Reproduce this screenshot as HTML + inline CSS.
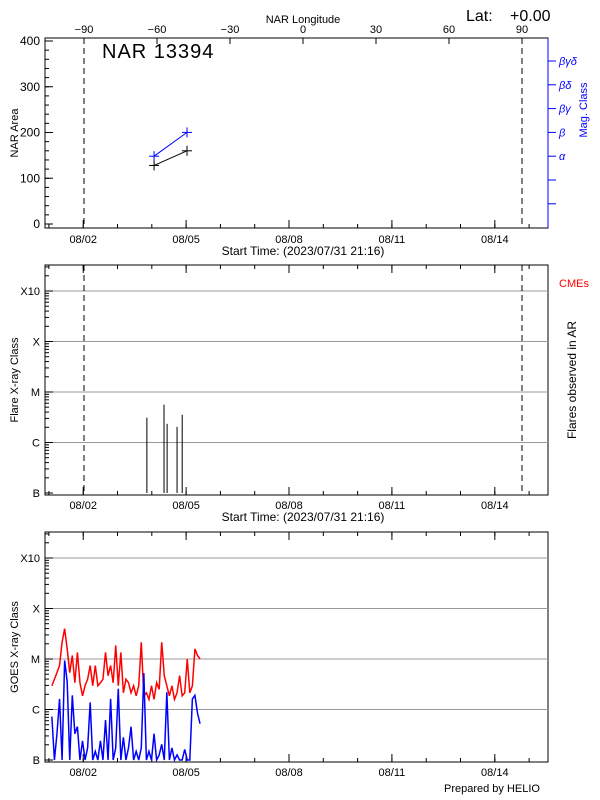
<!DOCTYPE html>
<html><head><meta charset="utf-8"><style>
body{margin:0;background:#fff}
svg{font-family:"Liberation Sans",sans-serif;display:block}
</style></head><body>
<svg id="c" width="600" height="800" viewBox="0 0 600 800"></svg>
<script>
// ---- data ----
const dayTickLabels = ["08/02","08/05","08/08","08/11","08/14"];
const dayTickDays = [1.114,4.114,7.114,10.114,13.114]; // days since start 07/31 21:16
const lonTicks = [-90,-60,-30,0,30,60,90];
const areaTicks = [0,100,200,300,400];
const narDays = [3.18,4.14];
const narArea = [128,160];
const magLevels = [1,2]; // alpha, beta
const magLabels = ["α","β","βγ","βδ","βγδ"];
const classLabels = ["B","C","M","X","X10"];
const flareDays = [2.97,3.47,3.56,3.85,4.0];
const flareLog = [-5.51,-5.25,-5.63,-5.69,-5.45];
const goesLong = [-5.53,-5.40,-5.27,-5.13,-4.67,-4.40,-4.80,-5.27,-4.93,-5.47,-4.87,-5.47,-5.73,-5.53,-5.40,-5.13,-5.53,-5.13,-5.53,-5.47,-5.40,-4.87,-5.33,-5.13,-5.47,-4.73,-5.53,-4.87,-5.67,-5.40,-5.47,-5.67,-5.53,-5.73,-5.53,-4.67,-5.73,-5.67,-5.80,-5.53,-5.80,-5.47,-5.60,-4.67,-5.33,-5.53,-5.73,-5.53,-5.80,-5.67,-5.33,-5.73,-5.67,-5.00,-5.67,-5.53,-4.80,-4.93,-5.00];
const goesShort = [-6.14,-7,-6.48,-5.79,-7,-5.03,-5.45,-7,-5.72,-6.48,-6.34,-7,-6.62,-7,-6.76,-5.86,-7,-6.83,-7,-6.62,-7,-6.21,-7,-5.79,-7,-6.76,-5.59,-7,-6.55,-7,-6.76,-6.34,-7,-6.83,-7,-6.76,-5.28,-7,-6.83,-7,-6.48,-7,-6.9,-6.69,-7,-5.66,-7,-6.76,-7,-6.9,-7,-7,-6.79,-7,-7,-5.79,-5.72,-6.07,-6.28];
const goesStartDay = 0.2, goesEndDay = 4.52;

const svg=document.getElementById('c');
const NS="http://www.w3.org/2000/svg";
function mk(tag,attrs,parent){const e=document.createElementNS(NS,tag);for(const k in attrs)e.setAttribute(k,attrs[k]);(parent||svg).appendChild(e);return e;}
function txt(s,x,y,o,parent){const e=mk('text',Object.assign({x:x,y:y,'font-size':11},o||{}),parent);e.textContent=s;return e;}

const X0=45,X1=548,PXD=34.3;
const xd=d=>X0+d*PXD;
const xl=l=>303+l*(438/180);

// ===== top panel =====
const T0=38,T1=228;
const ya=v=>224-v*(183/400);
const g1=mk('g',{});


mk('rect',{x:X0,y:T0,width:X1-X0,height:T1-T0,fill:'none',stroke:'#000'},g1);
mk('line',{x1:X1,y1:T0,x2:X1,y2:T1,stroke:'#00f'},g1);
areaTicks.forEach(v=>{mk('line',{x1:X0,y1:ya(v),x2:X0+8,y2:ya(v),stroke:'#000'},g1);
 const t=txt(String(v),40,ya(v)+4,{'text-anchor':'end','font-size':12},g1);
 });
for(let v=0;v<=400;v+=20)mk('line',{x1:X0,y1:ya(v),x2:X0+4,y2:ya(v),stroke:'#000'},g1);
const yl=txt('NAR Area',18,133,{'text-anchor':'middle',transform:'rotate(-90 18 133)'},g1);

lonTicks.forEach(l=>{mk('line',{x1:xl(l),y1:T0,x2:xl(l),y2:T0+6,stroke:'#000'},g1);txt(String(l).replace('-','−'),xl(l),33,{'text-anchor':'middle'},g1);});
const lt=txt('NAR Longitude',303,23,{'text-anchor':'middle'},g1);

const lat=txt('Lat:',466,21,{'font-size':16},g1);

const latv=txt('+0.00',510,21,{'font-size':16},g1);

const ttl=txt('NAR 13394',102,58,{'font-size':20,'letter-spacing':'1'},g1);

const ym=i=>180-i*23.8;
for(let i=-1;i<=5;i++){mk('line',{x1:X1,y1:ym(i),x2:X1+8,y2:ym(i),stroke:'#00f'},g1);if(i>=1){txt(magLabels[i-1],559,ym(i)+4,{fill:'#00f','font-size':11,'font-style':'italic'},g1);}}
const mt=txt('Mag. Class',587,110,{fill:'#00f','text-anchor':'middle',transform:'rotate(-90 587 110)'},g1);


function cross(x,y,c,p){mk('line',{x1:x-5,y1:y,x2:x+5,y2:y,stroke:c},p);mk('line',{x1:x,y1:y-5,x2:x,y2:y+5,stroke:c},p);}
mk('polyline',{points:narDays.map((d,i)=>xd(d)+','+ya(narArea[i])).join(' '),fill:'none',stroke:'#000'},g1);
narDays.forEach((d,i)=>cross(xd(d),ya(narArea[i]),'#000',g1));
mk('polyline',{points:narDays.map((d,i)=>xd(d)+','+ym(magLevels[i])).join(' '),fill:'none',stroke:'#00f'},g1);
narDays.forEach((d,i)=>cross(xd(d),ym(magLevels[i]),'#00f',g1));

function timeAxis(yb,p,labelY,st,yt){
 dayTickDays.forEach((d,i)=>{mk('line',{x1:xd(d),y1:yb,x2:xd(d),y2:yb-8,stroke:'#000'},p);
  if(yt!==undefined)mk('line',{x1:xd(d),y1:yt,x2:xd(d),y2:yt+8,stroke:'#000'},p);
  txt(dayTickLabels[i],xd(d),labelY,{'text-anchor':'middle'},p);});
 for(let d=0.114;d<14.6;d+=1){mk('line',{x1:xd(d),y1:yb,x2:xd(d),y2:yb-4,stroke:'#000'},p);
  if(yt!==undefined)mk('line',{x1:xd(d),y1:yt,x2:xd(d),y2:yt+4,stroke:'#000'},p);}
 if(st){const s=txt('Start Time: (2023/07/31 21:16)',303,labelY+12,{'text-anchor':'middle','font-size':12},p);}
}
timeAxis(T1,g1,243,true);
function dash(x,a,b,p){mk('line',{x1:x,y1:a,x2:x,y2:b,stroke:'#000','stroke-dasharray':'6,4'},p);}
dash(84,T0,T1,g1);dash(522,T0,T1,g1);

// ===== log panels =====
function logPanel(P0,P1,name,title){
 const g=mk('g',{});
 
 
 const yB=P1-2, dec=(P1-2-(P0+26))/4;
 const yf=lg=>yB-(lg+7)*dec;
 mk('rect',{x:X0,y:P0,width:X1-X0,height:P1-P0,fill:'none',stroke:'#000'},g);
 for(let i=1;i<=4;i++)mk('line',{x1:X0,y1:yf(-7+i),x2:X1,y2:yf(-7+i),stroke:'#999'},g);
 classLabels.forEach((c,i)=>txt(c,40,yf(-7+i)+4,{'text-anchor':'end'},g));
 for(let i=0;i<5;i++)for(let m=1;m<10;m++){const yy=yf(-7+i+Math.log10(m));if(yy<P0)continue;mk('line',{x1:X0,y1:yy,x2:X0+(m==1?8:4),y2:yy,stroke:'#000'},g);}
 const t=txt(title,18,(P0+P1)/2,{'text-anchor':'middle',transform:`rotate(-90 18 ${(P0+P1)/2})`},g);
 
 return {g,yf};
}
const m=logPanel(265,495,'flare-panel','Flare X-ray Class');
timeAxis(495,m.g,509,true,265);
dash(84,265,495,m.g);dash(522,265,495,m.g);
flareDays.forEach((d,i)=>{const b=mk('line',{x1:xd(d),y1:493,x2:xd(d),y2:m.yf(flareLog[i]),stroke:'#000'},m.g);
 });
const cm=txt('CMEs',559,287,{fill:'#f00'},m.g);
const fo=txt('Flares observed in AR',576,380,{'text-anchor':'middle','font-size':12,transform:'rotate(-90 576 380)'},m.g);


const b=logPanel(532,762,'goes-panel','GOES X-ray Class');
timeAxis(762,b.g,776,false,532);
const gx=i=>xd(goesStartDay+i*(goesEndDay-goesStartDay)/(goesLong.length-1));
const clip=v=>Math.max(-7,v);
const rl=mk('polyline',{points:goesLong.map((v,i)=>gx(i)+','+b.yf(v)).join(' '),fill:'none',stroke:'#f00','stroke-width':1.5},b.g);

const bl=mk('polyline',{points:goesShort.map((v,i)=>gx(i)+','+b.yf(clip(v))).join(' '),fill:'none',stroke:'#00f','stroke-width':1.5},b.g);

const ph=txt('Prepared by HELIO',540,792,{'text-anchor':'end'});

</script>
</body></html>
